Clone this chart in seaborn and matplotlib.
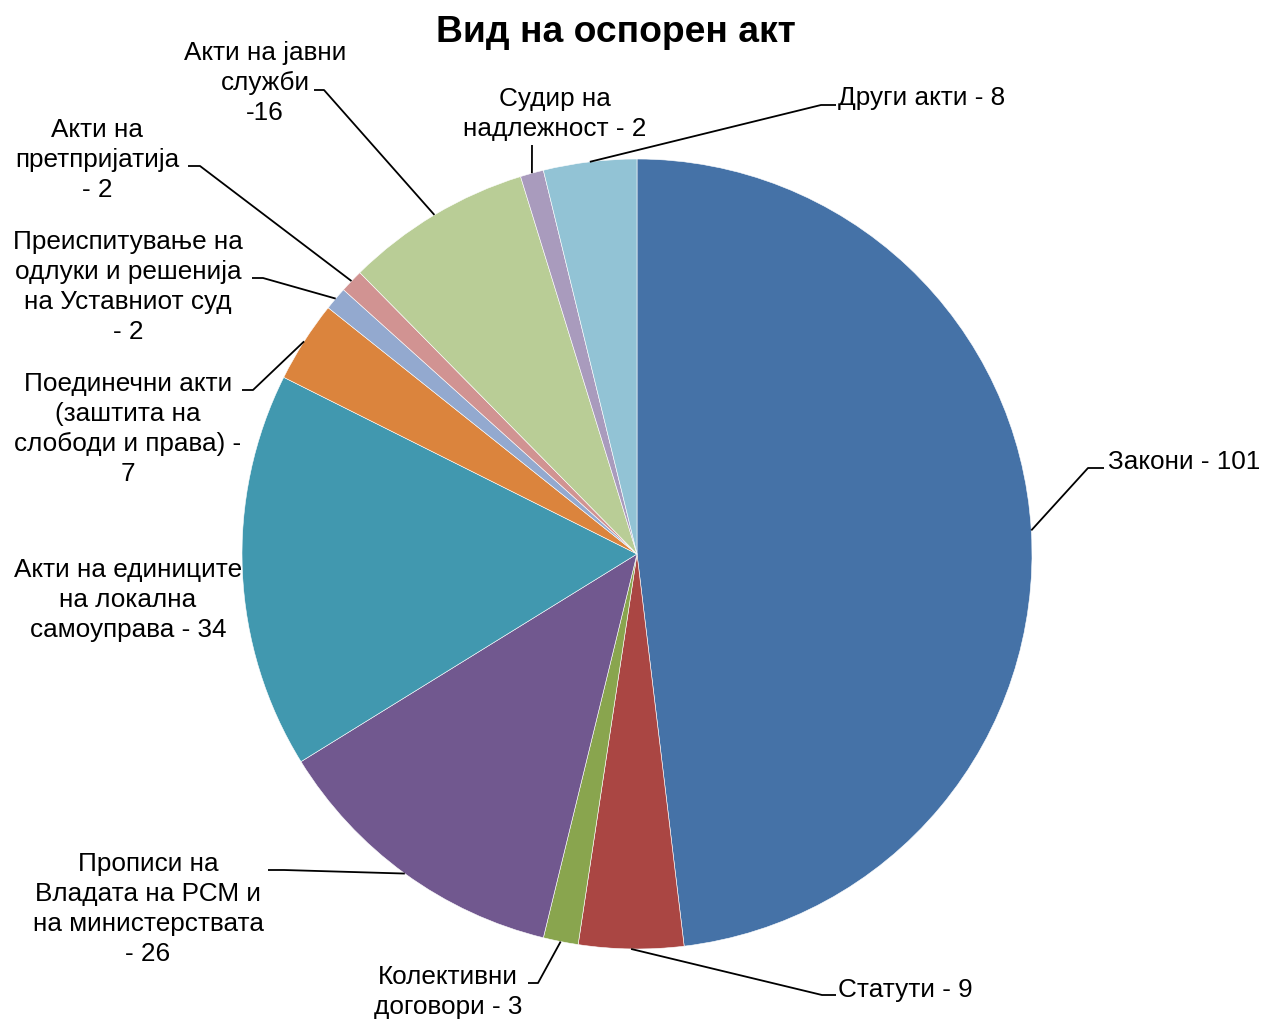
import numpy as np
import matplotlib
matplotlib.use("Agg")
import matplotlib.pyplot as plt
import seaborn as sns

# data
categories = [
    "Закони - 101",
    "Статути - 9",
    "Колективни\nдоговори - 3",
    "Прописи на\nВладата на РСМ и\nна министерствата\n- 26",
    "Акти на единиците\nна локална\nсамоуправа - 34",
    "Поединечни акти\n(заштита на\nслободи и права) -\n7",
    "Преиспитување на\nодлуки и решенија\nна Уставниот суд\n- 2",
    "Акти на\nпретпријатија\n- 2",
    "Акти на јавни\nслужби\n-16",
    "Судир на\nнадлежност - 2",
    "Други акти - 8",
]
values = [101, 9, 3, 26, 34, 7, 2, 2, 16, 2, 8]
colors = ["#4572A7", "#AA4643", "#89A54E", "#71588F", "#4198AF", "#DB843D",
          "#93A9CF", "#D19392", "#B9CD96", "#A99BBD", "#92C3D5"]
title = "Вид на оспорен акт"

# label layout in image pixels: text pos, ha, leader elbow, leader end (None = no line)
W, H = 1262, 1020
CX, CY, R = 637, 555, 395
layout = [
    ((1108, 462), "left",   (1088, 469), (1104, 469)),
    ((838, 990),  "left",   (822, 996),  (836, 996)),
    ((448, 992),  "center", (538, 984),  (528, 984)),
    ((148, 909),  "center", (284, 871),  (268, 871)),
    ((128, 600),  "center", None, None),
    ((128, 429),  "center", (253, 391),  (242, 391)),
    ((128, 287),  "center", (263, 279),  (252, 279)),
    ((97, 160),   "center", (200, 167),  (188, 167)),
    ((265, 83),   "center", (324, 91),   (314, 91)),
    ((555, 114),  "center", (532, 146),  (532, 146)),
    ((838, 98),   "left",   (821, 106),  (836, 106)),
]


def px(x, y):
    return (x - CX) / R, (CY - y) / R


sns.set_theme(style="white")
plt.rcParams["font.family"] = ["Liberation Sans", "DejaVu Sans"]

fig = plt.figure(figsize=(W / 100, H / 100), dpi=100)
ax = fig.add_axes([0, 0, 1, 1])

wedges, _ = ax.pie(values, colors=colors, startangle=90, counterclock=False,
                   radius=1, center=(0, 0),
                   wedgeprops=dict(edgecolor="white", linewidth=0.4))

for w, lab, (tpos, ha, elbow, end) in zip(wedges, categories, layout):
    tx, ty = px(*tpos)
    ax.text(tx, ty, lab, ha=ha, va="center", multialignment="center",
            fontsize=18.8, linespacing=1.33, color="black")
    if elbow is None:
        continue
    mid = np.deg2rad((w.theta1 + w.theta2) / 2)
    ax0, ay0 = np.cos(mid), np.sin(mid)
    ex, ey = px(*elbow)
    nx, ny = px(*end)
    ax.plot([ax0, ex, nx], [ay0, ey, ny], color="black", lw=1.3,
            solid_capstyle="butt", zorder=3)

tx, ty = px(616, 33)
ax.text(tx, ty, title, ha="center", va="center", fontsize=26.8,
        fontweight="bold", color="black")

ax.set_xlim(-CX / R, (W - CX) / R)
ax.set_ylim((CY - H) / R, CY / R)
ax.set_aspect("equal")
ax.axis("off")

fig.savefig("out.png", dpi=100, facecolor="white")
